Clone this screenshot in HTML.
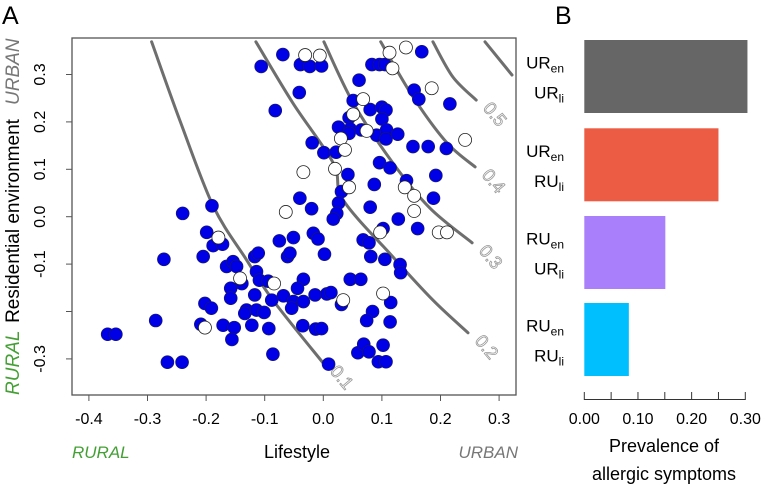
<!DOCTYPE html>
<html><head><meta charset="utf-8"><style>
body{margin:0;background:#fff;}
svg text{font-family:"Liberation Sans",Arial,sans-serif;}
</style></head><body>
<svg id="chart" width="762" height="486" viewBox="0 0 762 486" xmlns="http://www.w3.org/2000/svg">
<text x="2" y="24" font-size="25">A</text>
<text x="555" y="24" font-size="25">B</text>
<rect x="72" y="38" width="444" height="357" fill="none" stroke="#555" stroke-width="1.3"/>
<g id="contours"></g>
<g id="xaxis"></g>
<g id="yaxis"></g>
<g id="points"></g>
<g transform="translate(19,210) rotate(-90)">
<text x="-185" y="0" font-size="19" fill="#44a035" font-style="italic">RURAL</text>
<text x="-11" y="0" font-size="19" text-anchor="middle">Residential environment</text>
<text x="105" y="0" font-size="19" fill="#777" font-style="italic" text-anchor="start">URBAN</text>
</g>
<text x="72" y="458" font-size="17" fill="#44a035" font-style="italic">RURAL</text>
<text x="297" y="458" font-size="18" text-anchor="middle">Lifestyle</text>
<text x="518" y="458" font-size="17" fill="#777" font-style="italic" text-anchor="end">URBAN</text>
<g id="bars"></g>
<text x="664" y="452" font-size="18" text-anchor="middle">Prevalence of</text>
<text x="664" y="480" font-size="18" text-anchor="middle">allergic symptoms</text>
</svg>
<script>
const filledX=[-0.069,-0.106,-0.039,-0.023,-0.003,0.168,0.083,0.096,0.105,0.061,-0.041,-0.082,0.155,0.163,0.216,0.051,0.080,0.100,0.107,0.100,0.044,0.026,0.046,0.044,0.065,0.091,0.108,0.107,0.127,-0.019,0.001,0.022,0.153,0.179,0.210,0.096,0.114,0.042,0.087,0.142,0.192,0.031,0.188,-0.040,-0.020,0.026,0.080,-0.240,-0.190,0.023,0.128,0.017,
0.102,0.161,-0.199,-0.188,-0.172,-0.205,-0.272,-0.075,-0.051,-0.017,-0.009,0.002,-0.061,-0.057,-0.117,-0.111,-0.165,-0.154,-0.148,-0.114,-0.109,-0.094,-0.034,-0.044,0.046,0.064,0.068,0.078,0.081,0.105,0.131,0.132,-0.139,-0.158,-0.158,-0.117,-0.088,-0.068,-0.051,-0.054,-0.034,-0.014,0.006,0.013,0.031,0.115,0.084,0.074,0.114,-0.202,-0.191,-0.131,-0.134,-0.114,-0.101,-0.209,-0.171,-0.152,-0.156,-0.122,-0.093,-0.035,-0.013,-0.003,-0.286,-0.368,-0.354,-0.266,-0.241,-0.086,0.009,0.059,0.069,0.078,0.102,0.094,0.107];
const filledY=[0.342,0.317,0.321,0.317,0.318,0.348,0.321,0.321,0.321,0.288,0.262,0.224,0.267,0.248,0.238,0.245,0.226,0.231,0.225,0.206,0.209,0.189,0.185,0.176,0.183,0.172,0.183,0.164,0.174,0.156,0.135,0.136,0.148,0.148,0.144,0.114,0.103,0.089,0.068,0.076,0.087,0.053,0.039,0.039,0.017,0.029,0.020,0.007,0.023,0.007,-0.005,-0.005,
-0.025,-0.025,-0.033,-0.061,-0.058,-0.084,-0.090,-0.051,-0.044,-0.035,-0.047,-0.079,-0.084,-0.077,-0.084,-0.077,-0.105,-0.095,-0.105,-0.116,-0.134,-0.136,-0.132,-0.151,-0.132,-0.132,-0.049,-0.055,-0.084,-0.090,-0.101,-0.118,-0.141,-0.151,-0.172,-0.165,-0.176,-0.167,-0.179,-0.193,-0.179,-0.165,-0.163,-0.160,-0.185,-0.181,-0.200,-0.219,-0.222,-0.183,-0.193,-0.197,-0.204,-0.197,-0.202,-0.227,-0.229,-0.234,-0.259,-0.229,-0.236,-0.230,-0.237,-0.236,-0.219,-0.248,-0.248,-0.307,-0.307,-0.290,-0.311,-0.287,-0.269,-0.285,-0.271,-0.306,-0.306];
const openX=[-0.031,-0.006,0.113,0.141,0.118,0.185,0.068,0.051,0.074,0.030,0.037,0.242,-0.034,0.020,0.044,0.139,0.155,0.155,-0.064,0.097,0.197,0.211,-0.179,-0.142,-0.084,0.034,0.102,-0.202];
const openY=[0.341,0.340,0.346,0.357,0.313,0.271,0.248,0.216,0.181,0.165,0.141,0.162,0.094,0.101,0.062,0.062,0.044,0.012,0.010,-0.033,-0.033,-0.033,-0.044,-0.130,-0.141,-0.176,-0.162,-0.234];
const xTicks=[-0.4,-0.3,-0.2,-0.1,0.0,0.1,0.2,0.3];
const xTickLabels=["-0.4","-0.3","-0.2","-0.1","0.0","0.1","0.2","0.3"];
const yTicks=[0.3,0.2,0.1,0.0,-0.1,-0.2,-0.3];
const yTickLabels=["0.3","0.2","0.1","0.0","-0.1","","-0.3"];
const contourLevels=["0.1","0.2","0.3","0.4","0.5","0.6"];
const contourXs=[[-0.293,-0.245,-0.188,-0.131,-0.086,0.0],[-0.115,-0.052,0.017,0.034,0.119,0.187,0.247],[0.001,0.051,0.119,0.182,0.254],[0.098,0.153,0.211,0.259],[0.187,0.221,0.261],[0.276,0.322]];
const contourYs=[[0.369,0.204,0.023,-0.091,-0.176,-0.309],[0.369,0.240,0.113,0.035,-0.085,-0.176,-0.245],[0.369,0.240,0.113,0.018,-0.055],[0.369,0.253,0.156,0.105],[0.369,0.295,0.246],[0.369,0.299]];
const barCats=[["UR","en","UR","li"],["UR","en","RU","li"],["RU","en","UR","li"],["RU","en","RU","li"]];
const barValues=[0.304,0.250,0.151,0.083];
const barColors=["#666666","#ec5b43","#a97ffb","#00bfff"];
const barTicks=[0,0.05,0.1,0.15,0.2,0.25,0.3];
const barTickLabels=["0.00","","0.10","","0.20","","0.30"];

const NS="http://www.w3.org/2000/svg";
const X=v=>323.3+v*586, Y=v=>216.7-v*474;
const BX=v=>584.3+v*(161/0.3);
function mk(tag,attrs,parent){const e=document.createElementNS(NS,tag);for(const k in attrs)e.setAttribute(k,attrs[k]);parent.appendChild(e);return e;}
function smooth(pts){
  if(pts.length<3)return 'M'+pts.map(p=>p[0].toFixed(1)+' '+p[1].toFixed(1)).join(' L');
  let d='M'+pts[0][0].toFixed(1)+' '+pts[0][1].toFixed(1);
  for(let i=0;i<pts.length-1;i++){
    const p0=pts[i-1]||pts[i],p1=pts[i],p2=pts[i+1],p3=pts[i+2]||p2;
    const c1=[p1[0]+(p2[0]-p0[0])/6,p1[1]+(p2[1]-p0[1])/6];
    const c2=[p2[0]-(p3[0]-p1[0])/6,p2[1]-(p3[1]-p1[1])/6];
    d+=` C${c1[0].toFixed(1)} ${c1[1].toFixed(1)} ${c2[0].toFixed(1)} ${c2[1].toFixed(1)} ${p2[0].toFixed(1)} ${p2[1].toFixed(1)}`;
  }
  return d;
}
const gC=document.getElementById('contours');
contourXs.forEach((xs,i)=>{
  const pts=xs.map((x,j)=>[X(x),Y(contourYs[i][j])]);
  const p=mk('path',{d:smooth(pts),fill:'none',stroke:'#6e6e6e','stroke-width':3,'stroke-linecap':'round','stroke-linejoin':'round'},gC);
  
  
  if(i<5){
    const n=xs.length-1;
    const lx=X(xs[n])+14, ly=Y(contourYs[i][n])+18;
    const t=mk('text',{x:lx,y:ly,'font-size':18,fill:'none',stroke:'#999','stroke-width':0.8,'text-anchor':'middle',transform:`rotate(50 ${lx} ${ly})`},gC);
    t.textContent=contourLevels[i];
    
    
  }
});
const gX=document.getElementById('xaxis');
xTicks.forEach((v,i)=>{
  const l=mk('line',{x1:X(v),x2:X(v),y1:395,y2:401,stroke:'#555'},gX);
  
  
  const t=mk('text',{x:X(v),y:424,'font-size':16,'text-anchor':'middle'},gX);
  t.textContent=xTickLabels[i];
  
  
});
const gY=document.getElementById('yaxis');
yTicks.forEach((v,i)=>{
  const l=mk('line',{x1:66,x2:72,y1:Y(v),y2:Y(v),stroke:'#555'},gY);
  
  
  const t=mk('text',{x:45,y:Y(v),'font-size':16,'text-anchor':'middle',transform:`rotate(-90 45 ${Y(v)})`},gY);
  t.textContent=yTickLabels[i];
  
  
});
const gP=document.getElementById('points');
filledX.forEach((x,i)=>{
  const c=mk('circle',{cx:X(x),cy:Y(filledY[i]),r:6.5,fill:'#0000e6',stroke:'#1a1a5a','stroke-width':0.6},gP);
  
  
});
openX.forEach((x,i)=>{
  const c=mk('circle',{cx:X(x),cy:Y(openY[i]),r:6.5,fill:'#fff',stroke:'#222','stroke-width':0.8},gP);
  
  
});
const gB=document.getElementById('bars');
const bTop=[40,128.3,216,303], bH=73;
barValues.forEach((v,i)=>{
  const r=mk('rect',{x:BX(0),y:bTop[i],width:BX(v)-BX(0),height:bH,fill:barColors[i]},gB);
  
  
  const c=barCats[i], cy=bTop[i]+bH/2;
  [[c[0],c[1],cy-8],[c[2],c[3],cy+22]].forEach(([m,s,yy])=>{
    const t=mk('text',{x:564,y:yy,'font-size':17,'text-anchor':'end'},gB);
    
    
    const a=mk('tspan',{},t);a.textContent=m;
    const b=mk('tspan',{'font-size':12,dy:4},t);b.textContent=s;
  });
});
const ax=mk('line',{x1:BX(0),x2:BX(0.3),y1:399.5,y2:399.5,stroke:'#333'},gB);


barTicks.forEach((v,i)=>{
  const l=mk('line',{x1:BX(v),x2:BX(v),y1:392,y2:400,stroke:'#333'},gB);
  
  
  if(barTickLabels[i]){
    const t=mk('text',{x:BX(v),y:424,'font-size':16,'text-anchor':'middle'},gB);
    t.textContent=barTickLabels[i];
    
    
  }
});
</script>
</body></html>
